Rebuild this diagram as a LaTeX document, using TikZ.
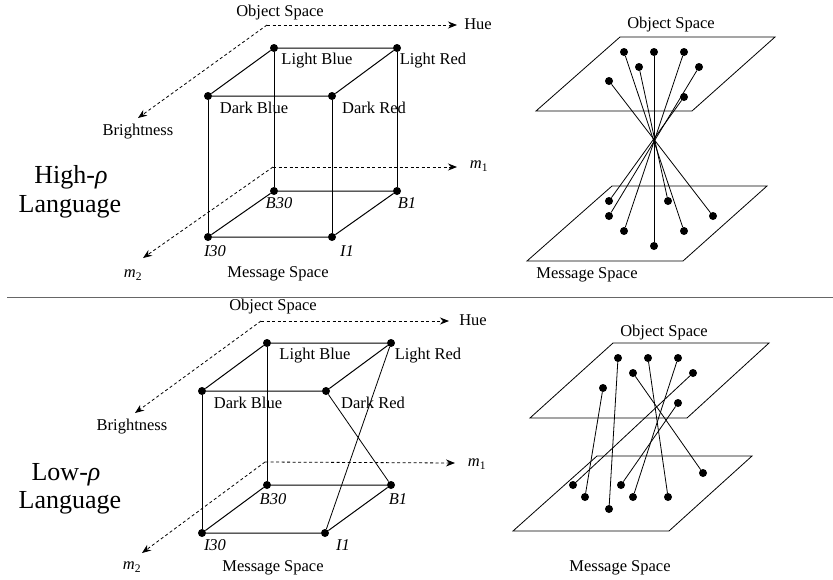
\documentclass[tikz,border=0pt]{standalone}
\usepackage{fontspec}
\setmainfont{Liberation Serif}
\usetikzlibrary{arrows.meta}
\begin{document}
\begin{tikzpicture}[x=1pt,y=-1pt,
 dot/.style={circle,fill=black,inner sep=0pt,minimum size=8pt},
 edge/.style={line width=1pt},
 plane/.style={line width=0.8pt},
 link/.style={line width=0.8pt},
 axis/.style={dash pattern=on 3pt off 2.5pt,line width=0.8pt,-{Stealth[length=9pt,width=7pt]}},
 lbl/.style={font=\fontsize{16.5}{18}\selectfont,inner sep=0pt},
 big/.style={font=\fontsize{26}{29}\selectfont,inner sep=0pt,anchor=base}]
\useasboundingbox (0,0) rectangle (833,579);

% ================= TOP PANEL =================
\coordinate (oT) at (267,25);
\coordinate (hueE) at (457,25);
\coordinate (brE) at (138,118);
\coordinate (oB) at (273,167);
\coordinate (m1E) at (457,167);
\coordinate (m2E) at (143,258);
\draw[axis] (oT) -- (hueE);
\draw[axis] (oT) -- (brE);
\draw[axis] (oB) -- (m1E);
\draw[axis] (oB) -- (m2E);
\node[lbl] (hueL) at (478,24) {Hue};
\node[lbl] (brL) at (138,132) {Brightness};
\node[lbl] (m1L) at (479,166) {\textit{m}\textsubscript{1}};
\node[lbl] (m2L) at (133,275) {\textit{m}\textsubscript{2}};
\node[lbl] (osL) at (280,13) {Object Space};
\node[lbl] (msL) at (278,274) {Message Space};

\node[dot] (LB) at (274,48) {};
\node[dot] (LR) at (397,48) {};
\node[dot] (DB) at (208,96) {};
\node[dot] (DR) at (332,96) {};
\node[dot] (B30) at (274,191) {};
\node[dot] (B1) at (397,191) {};
\node[dot] (I30) at (208,237) {};
\node[dot] (I1) at (332,237) {};
\draw[edge] (LB) -- (LR) -- (DR) -- (DB) -- (LB);
\draw[edge] (B30) -- (B1) -- (I1) -- (I30) -- (B30);
\draw[edge] (LB) -- (B30);
\draw[edge] (LR) -- (B1);
\draw[edge] (DB) -- (I30);
\draw[edge] (DR) -- (I1);
\node[lbl] (LBl) at (317,61) {Light Blue};
\node[lbl] (LRl) at (433,61) {Light Red};
\node[lbl] (DBl) at (254,108) {Dark Blue};
\node[lbl] (DRl) at (374,108) {Dark Red};
\node[lbl] (B30l) at (279,203) {\textit{B30}};
\node[lbl] (B1l) at (407,203) {\textit{B1}};
\node[lbl] (I30l) at (215,251) {\textit{I30}};
\node[lbl] (I1l) at (347,251) {\textit{I1}};

\node[big] (hi1) at (71,183) {High-\textit{ρ}};
\node[big] (hi2) at (70,212) {Language};

\coordinate (pa1) at (620,37);
\coordinate (pa2) at (775,37);
\coordinate (pa3) at (692,111);
\coordinate (pa4) at (536,111);
\draw[plane] (pa1) -- (pa2) -- (pa3) -- (pa4) -- cycle;
\coordinate (pb1) at (612,186);
\coordinate (pb2) at (767,186);
\coordinate (pb3) at (683,261);
\coordinate (pb4) at (527,261);
\draw[plane] (pb1) -- (pb2) -- (pb3) -- (pb4) -- cycle;
\node[lbl] (osR) at (671,25) {Object Space};
\node[lbl] (msR) at (587,275) {Message Space};

\node[dot] (u1) at (624,52) {};
\node[dot] (u2) at (654,52) {};
\node[dot] (u3) at (684,52) {};
\node[dot] (u4) at (639,67) {};
\node[dot] (u5) at (699,67) {};
\node[dot] (u6) at (609,81) {};
\node[dot] (u7) at (684,97) {};
\node[dot] (l1) at (684,231) {};
\node[dot] (l2) at (654,246) {};
\node[dot] (l3) at (624,231) {};
\node[dot] (l4) at (668,201) {};
\node[dot] (l5) at (609,216) {};
\node[dot] (l6) at (713,216) {};
\node[dot] (l7) at (609,201) {};
\foreach \i in {1,...,7} {\draw[link] (u\i) -- (l\i);}

% separator
\draw[line width=1.3pt,draw=black!60] (7,297.5) -- (833,297.5);

% ================= BOTTOM PANEL =================
\coordinate (oT2) at (261,321);
\coordinate (hueE2) at (449,321);
\coordinate (brE2) at (135,413);
\coordinate (oB2) at (265,462);
\coordinate (m1E2) at (455,463);
\coordinate (m2E2) at (142,553);
\draw[axis] (oT2) -- (hueE2);
\draw[axis] (oT2) -- (brE2);
\draw[axis] (oB2) -- (m1E2);
\draw[axis] (oB2) -- (m2E2);
\node[lbl] (hueL2) at (473,320) {Hue};
\node[lbl] (brL2) at (132,427) {Brightness};
\node[lbl] (m1L2) at (477,464) {\textit{m}\textsubscript{1}};
\node[lbl] (m2L2) at (132,567) {\textit{m}\textsubscript{2}};
\node[lbl] (osL2) at (273,307) {Object Space};
\node[lbl] (msL2) at (273,568) {Message Space};

\node[dot] (LB2) at (267,343) {};
\node[dot] (LR2) at (391,343) {};
\node[dot] (DB2) at (202,391) {};
\node[dot] (DR2) at (326,391) {};
\node[dot] (B302) at (267,485) {};
\node[dot] (B12) at (391,485) {};
\node[dot] (I302) at (202,533) {};
\node[dot] (I12) at (325,533) {};
\draw[edge] (LB2) -- (LR2) -- (DR2) -- (DB2) -- (LB2);
\draw[edge] (B302) -- (B12) -- (I12) -- (I302) -- (B302);
\draw[edge] (LB2) -- (B302);
\draw[edge] (DB2) -- (I302);
\draw[link] (DR2) -- (B12);
\draw[link] (LR2) -- (I12);
\node[lbl] (LBl2) at (315,356) {Light Blue};
\node[lbl] (LRl2) at (428,356) {Light Red};
\node[lbl] (DBl2) at (248,403) {Dark Blue};
\node[lbl] (DRl2) at (373,403) {Dark Red};
\node[lbl] (B30l2) at (273,499) {\textit{B30}};
\node[lbl] (B1l2) at (398,499) {\textit{B1}};
\node[lbl] (I30l2) at (215,545) {\textit{I30}};
\node[lbl] (I1l2) at (343,545) {\textit{I1}};

\node[big] (lo1) at (66,480) {Low-\textit{ρ}};
\node[big] (lo2) at (70,508) {Language};

\coordinate (qa1) at (613,343);
\coordinate (qa2) at (769,343);
\coordinate (qa3) at (687,418);
\coordinate (qa4) at (530,418);
\draw[plane] (qa1) -- (qa2) -- (qa3) -- (qa4) -- cycle;
\coordinate (qb1) at (597,456);
\coordinate (qb2) at (752,456);
\coordinate (qb3) at (669,531);
\coordinate (qb4) at (513,531);
\draw[plane] (qb1) -- (qb2) -- (qb3) -- (qb4) -- cycle;
\node[lbl] (osR2) at (664,333) {Object Space};
\node[lbl] (msR2) at (620,568) {Message Space};

\node[dot] (v1) at (618,358) {};
\node[dot] (v2) at (648,358) {};
\node[dot] (v3) at (678,358) {};
\node[dot] (v4) at (633,373) {};
\node[dot] (v5) at (693,373) {};
\node[dot] (v6) at (603,388) {};
\node[dot] (v7) at (678,403) {};
\node[dot] (w1) at (609,509) {};
\node[dot] (w2) at (668,497) {};
\node[dot] (w3) at (633,497) {};
\node[dot] (w4) at (703,473) {};
\node[dot] (w5) at (573,485) {};
\node[dot] (w6) at (585,497) {};
\node[dot] (w7) at (621,485) {};
\foreach \i in {1,...,7} {\draw[link] (v\i) -- (w\i);}
\end{tikzpicture}
\end{document}
